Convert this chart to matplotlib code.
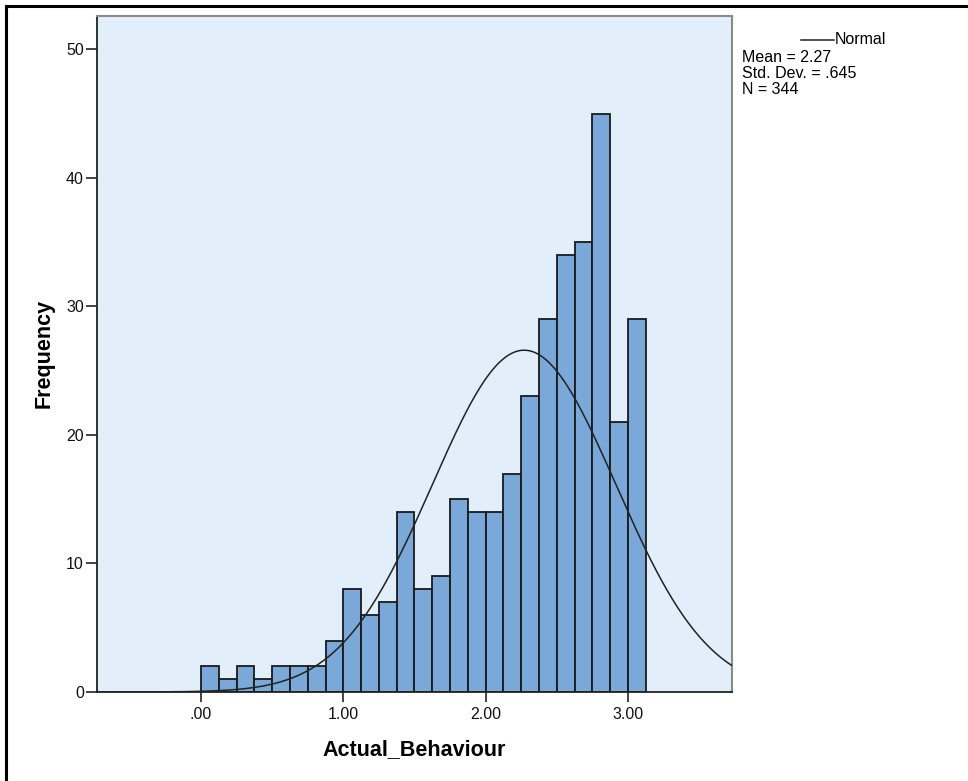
import numpy as np
import matplotlib
matplotlib.use("Agg")
import matplotlib.pyplot as plt
from matplotlib.lines import Line2D

# Data
bin_width = 0.125
bin_starts = [i * 0.125 for i in range(25)]
counts = [2, 1, 2, 1, 2, 2, 2, 4, 8, 6, 7, 14, 8, 9, 15, 14, 14, 17, 23, 29, 34, 35, 45, 21, 29]
mean = 2.27
sd = 0.645
n = 344
xticks = [0, 1, 2, 3]
xticklabels = [".00", "1.00", "2.00", "3.00"]
yticks = [0, 10, 20, 30, 40, 50]

plt.rcParams['font.family'] = ['Liberation Sans', 'DejaVu Sans']

W, H = 968, 781
fig = plt.figure(figsize=(W / 100, H / 100), dpi=100)
ax = fig.add_axes([97/W, 1-692/H, (732-97)/W, (692-16)/H])

ax.set_facecolor('#E2EEFA')
ax.bar(bin_starts, counts, width=bin_width, align='edge', color='#7AA8D8',
       edgecolor='#1a1a1a', linewidth=1.3, zorder=2)

x = np.linspace(-0.73, 3.73, 600)
y = n * bin_width / (sd * np.sqrt(2 * np.pi)) * np.exp(-0.5 * ((x - mean) / sd) ** 2)
ax.plot(x, y, color='#222222', linewidth=1.1, zorder=3)

ax.set_xlim(-0.73, 3.73)
ax.set_ylim(0, 52.6)
ax.set_xticks(xticks)
ax.set_xticklabels(xticklabels)
ax.set_yticks(yticks)
ax.tick_params(axis='both', direction='out', width=1.2, labelsize=11.5,
               color='#222222', labelcolor='#111111')
ax.tick_params(axis='x', length=7.5, pad=3.5)
ax.tick_params(axis='y', length=8, pad=1.5)

for s in ['top', 'right']:
    ax.spines[s].set_color('#8a8a8a')
    ax.spines[s].set_linewidth(1.5)
for s in ['left', 'bottom']:
    ax.spines[s].set_color('#222222')
    ax.spines[s].set_linewidth(1.3)

# Axis titles
fig.text(414.5/W, 1-750/H, 'Actual_Behaviour', fontsize=15.5, fontweight='bold',
         ha='center', va='center')
fig.text(44/W, 1-353/H, 'Frequency', fontsize=15.5, fontweight='bold',
         ha='center', va='center', rotation=90)

# Legend-like text
fig.add_artist(Line2D([801/W, 834/W], [1-40/H, 1-40/H], color='#222222', linewidth=1.1))
fig.text(835/W, 1-40/H, 'Normal', fontsize=11.5, va='center', ha='left')
fig.text(742/W, 1-57/H, 'Mean = 2.27', fontsize=11.5, va='center', ha='left')
fig.text(742/W, 1-73.5/H, 'Std. Dev. = .645', fontsize=11.5, va='center', ha='left')
fig.text(742/W, 1-90/H, 'N = 344', fontsize=11.5, va='center', ha='left')

# Outer frame (top and left visible)
fig.add_artist(Line2D([5.5/W, 1.0], [1-5.5/H, 1-5.5/H], color='black', linewidth=2.2))
fig.add_artist(Line2D([5.5/W, 5.5/W], [0, 1-5.5/H], color='black', linewidth=2.2))

fig.savefig('out.png', dpi=100)
